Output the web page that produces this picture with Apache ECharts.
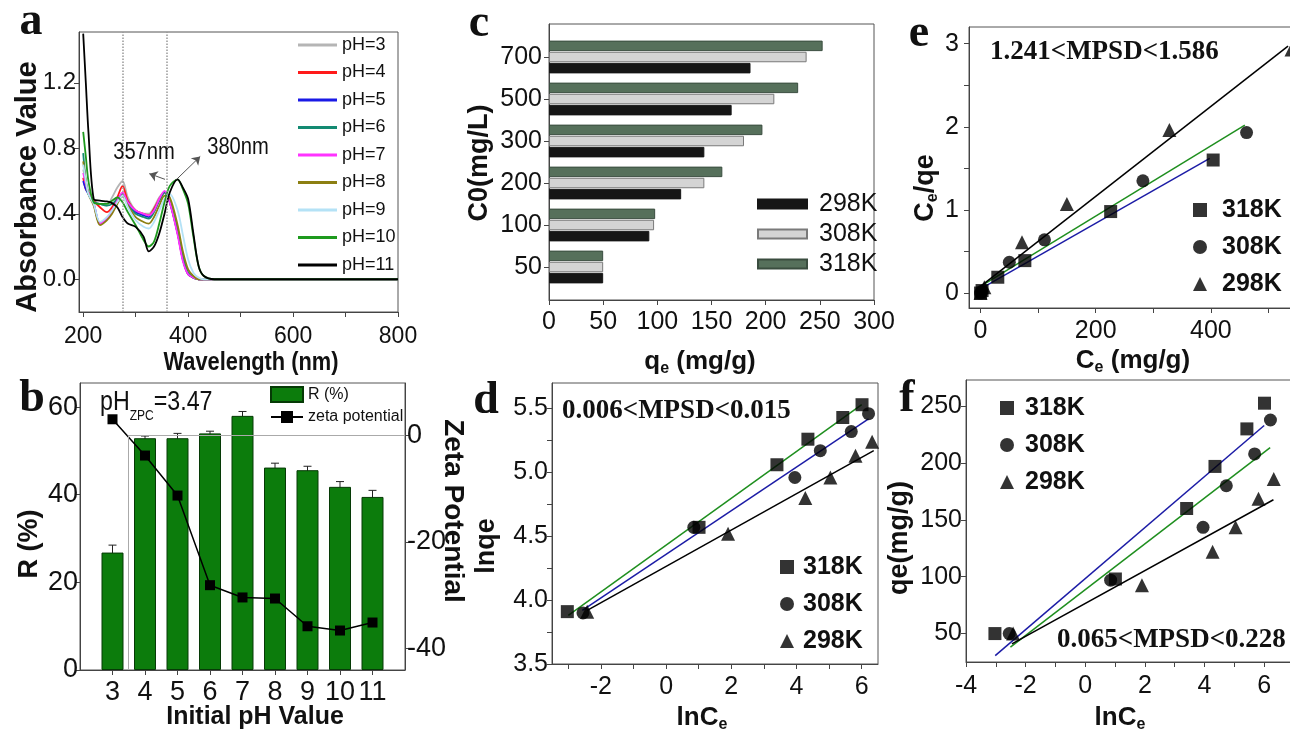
<!DOCTYPE html>
<html>
<head>
<meta charset="utf-8">
<script src="https://cdn.jsdelivr.net/npm/echarts@6/dist/echarts.min.js"></script>
<style>
  html, body { margin: 0; padding: 0; background: #fff; }
  #chart { width: 1290px; height: 731px; }
</style>
</head>
<body>
<div id="chart"></div>
<script>
  // a: UV-vis spectra at different pH
  const wavelength = [200, 205, 210, 220, 232, 245, 255, 265, 275, 285, 300, 315, 325, 335, 345, 355, 365, 380, 390, 400, 410, 420, 430, 450, 500, 600, 700, 800];
  const absPH3 = [0.67, 0.60, 0.54, 0.48, 0.46, 0.45, 0.50, 0.56, 0.60, 0.50, 0.42, 0.40, 0.40, 0.44, 0.50, 0.53, 0.48, 0.30, 0.15, 0.04, 0.01, 0, 0, 0, 0, 0, 0, 0];
  const absPH4 = [0.62, 0.55, 0.53, 0.48, 0.44, 0.41, 0.44, 0.50, 0.57, 0.48, 0.42, 0.40, 0.39, 0.43, 0.49, 0.53, 0.47, 0.28, 0.12, 0.03, 0.01, 0, 0, 0, 0, 0, 0, 0];
  const absPH5 = [0.60, 0.55, 0.52, 0.46, 0.34, 0.37, 0.42, 0.47, 0.52, 0.47, 0.41, 0.39, 0.38, 0.42, 0.48, 0.53, 0.47, 0.28, 0.12, 0.03, 0.01, 0, 0, 0, 0, 0, 0, 0];
  const absPH6 = [0.77, 0.60, 0.52, 0.47, 0.46, 0.45, 0.46, 0.49, 0.52, 0.46, 0.40, 0.38, 0.37, 0.41, 0.48, 0.53, 0.48, 0.30, 0.14, 0.04, 0.01, 0, 0, 0, 0, 0, 0, 0];
  const absPH7 = [0.65, 0.58, 0.53, 0.46, 0.34, 0.37, 0.42, 0.48, 0.53, 0.47, 0.42, 0.40, 0.39, 0.42, 0.49, 0.54, 0.47, 0.27, 0.11, 0.03, 0.01, 0, 0, 0, 0, 0, 0, 0];
  const absPH8 = [0.72, 0.60, 0.52, 0.45, 0.33, 0.36, 0.40, 0.46, 0.51, 0.45, 0.38, 0.35, 0.34, 0.38, 0.45, 0.51, 0.50, 0.33, 0.17, 0.06, 0.02, 0, 0, 0, 0, 0, 0, 0];
  const absPH9 = [0.70, 0.60, 0.52, 0.46, 0.35, 0.38, 0.42, 0.47, 0.51, 0.44, 0.36, 0.32, 0.31, 0.35, 0.42, 0.49, 0.52, 0.42, 0.27, 0.12, 0.04, 0.01, 0, 0, 0, 0, 0, 0];
  const absPH10 = [0.90, 0.75, 0.60, 0.47, 0.46, 0.46, 0.48, 0.50, 0.47, 0.41, 0.33, 0.24, 0.20, 0.23, 0.34, 0.47, 0.57, 0.61, 0.55, 0.46, 0.26, 0.08, 0.02, 0, 0, 0, 0, 0];
  const absPH11 = [1.50, 1.20, 0.90, 0.49, 0.48, 0.475, 0.465, 0.44, 0.38, 0.34, 0.32, 0.26, 0.17, 0.20, 0.28, 0.40, 0.53, 0.61, 0.56, 0.49, 0.28, 0.08, 0.02, 0, 0, 0, 0, 0];
  const markerWavelengths = [275, 360];
  const arrow357 = [[356, 0.61], [326, 0.645]];
  const arrow380 = [[378, 0.61], [423, 0.75]];

  // b: removal and zeta potential vs pH
  const phValues = [3, 4, 5, 6, 7, 8, 9, 10, 11];
  const removalR = [26.8, 52.9, 52.9, 54.0, 58.0, 46.2, 45.6, 41.8, 39.5];
  const removalErr = [1.7, 0.5, 1.1, 0.5, 1.0, 1.0, 0.9, 1.2, 1.5];
  const zetaPotential = [3.0, -3.8, -11.3, -28.1, -30.4, -30.6, -35.8, -36.6, -35.1];
  const pHzpc = 3.47;

  // c: qe at each initial concentration
  const c0Levels = ['50', '100', '200', '300', '500', '700'];
  const qe298 = [50, 92.6, 122, 143.4, 168.6, 186];
  const qe308 = [50, 97, 143.4, 180, 208, 237.8];
  const qe318 = [50, 98, 160, 197, 230, 252.6];

  // d: Freundlich, lnqe vs lnCe
  const lnCe318 = [-3.03, 1.01, 3.40, 4.35, 5.42, 6.01];
  const lnqe318 = [3.91, 4.57, 5.06, 5.26, 5.43, 5.53];
  const lnCe308 = [-2.55, 0.85, 3.95, 4.73, 5.68, 6.21];
  const lnqe308 = [3.90, 4.57, 4.96, 5.17, 5.32, 5.46];
  const lnCe298 = [-2.42, 1.90, 4.27, 5.04, 5.81, 6.32];
  const lnqe298 = [3.91, 4.52, 4.80, 4.96, 5.13, 5.24];
  const freundFit318 = [[-3.0, 3.88], [6.0, 5.53]];
  const freundFit308 = [[-2.57, 3.92], [6.21, 5.42]];
  const freundFit298 = [[-2.42, 3.92], [6.37, 5.17]];

  // e: Langmuir, Ce/qe vs Ce
  const ce318 = [0.05, 2.7, 30, 77, 226, 404];
  const ceqe318 = [0.0, 0.03, 0.19, 0.39, 0.98, 1.6];
  const ce308 = [0.08, 2.3, 50, 111, 282, 462];
  const ceqe308 = [0.0, 0.02, 0.37, 0.64, 1.35, 1.93];
  const ce298 = [0.09, 6.7, 72, 150, 328, 540];
  const ceqe298 = [0.0, 0.07, 0.61, 1.07, 1.96, 2.93];
  const langFit318 = [[0, 0.05], [398, 1.62]];
  const langFit308 = [[0, 0.08], [459, 2.02]];
  const langFit298 = [[0, 0.08], [534, 2.97]];

  // f: Temkin, qe vs lnCe (same lnCe as d, same qe as c)
  const tempFit318 = [[-3.02, 30.6], [6.0, 233]];
  const tempFit308 = [[-2.51, 38], [6.2, 213.5]];
  const tempFit298 = [[-2.46, 41], [6.31, 167.7]];

  const sans = "'Liberation Sans', Arial, sans-serif";
  const serif = "'Liberation Serif', 'Times New Roman', serif";
  const axisColor = '#444';

  function zip(xs, ys) {
    return xs.map((x, i) => [x, ys[i]]);
  }

  function grid(left, top, width, height) {
    return {
      left: left, top: top, width: width, height: height,
      show: true, borderColor: '#555', borderWidth: 1, backgroundColor: 'transparent',
      containLabel: false, outerBoundsMode: 'none'
    };
  }

  function numAxis(gridIndex, min, max, labels, ticks, opts) {
    opts = opts || {};
    const label = {
      show: labels.length > 0, customValues: labels, margin: opts.margin || 8,
      color: '#111', fontFamily: sans, fontSize: opts.fontSize || 25
    };
    if (opts.formatter) label.formatter = opts.formatter;
    return {
      type: 'value', gridIndex: gridIndex, min: min, max: max,
      position: opts.position, splitLine: { show: false },
      axisLine: { show: true, onZero: false, lineStyle: { color: axisColor, width: 1 } },
      axisTick: { show: ticks.length > 0, customValues: ticks, length: 5, lineStyle: { color: axisColor } },
      axisLabel: label
    };
  }

  function fmt1(v) {
    return v.toFixed(1);
  }

  // free text: titles, panel letters, notes
  function text(x, y, str, font, opts) {
    opts = opts || {};
    return {
      type: 'text', x: x, y: y, rotation: opts.rotation || 0, scaleX: opts.sx || 1, z: 100,
      style: {
        text: str, font: font, fill: '#111', rich: opts.rich,
        align: opts.align || 'center', verticalAlign: 'middle',
        textAlign: opts.align || 'center', textVerticalAlign: 'middle'
      }
    };
  }

  const specColors = ['#b5b5b5', '#ff1a1a', '#1a1ae6', '#138a72', '#ff33ff', '#8c7f12', '#b4e2f6', '#1e9a1e', '#000000'];
  const specData = [absPH3, absPH4, absPH5, absPH6, absPH7, absPH8, absPH9, absPH10, absPH11];
  const specNames = ['pH=3', 'pH=4', 'pH=5', 'pH=6', 'pH=7', 'pH=8', 'pH=9', 'pH=10', 'pH=11'];

  const series = specData.map((arr, i) => ({
    name: specNames[i], type: 'line', xAxisIndex: 0, yAxisIndex: 0,
    data: zip(wavelength, arr), symbol: 'none', smooth: 0.3,
    lineStyle: { color: specColors[i], width: 1.8 }, itemStyle: { color: specColors[i] }
  }));

  series[0].markLine = {
    silent: true, symbol: 'none', label: { show: false },
    lineStyle: { color: '#999', type: 'dotted', width: 1.5 },
    data: markerWavelengths.map(w => ({ xAxis: w }))
  };
  series[8].markLine = {
    silent: true, symbol: ['none', 'arrow'], symbolSize: 8, label: { show: false },
    lineStyle: { color: '#555', type: 'solid', width: 1 },
    data: [
      [{ coord: arrow357[0] }, { coord: arrow357[1] }],
      [{ coord: arrow380[0] }, { coord: arrow380[1] }]
    ]
  };

  // b
  series.push({
    name: 'R (%)', type: 'bar', xAxisIndex: 1, yAxisIndex: 1, barWidth: 22,
    data: zip(phValues, removalR),
    itemStyle: { color: '#0c7c0c', borderColor: '#063a06', borderWidth: 1 }
  });
  series.push({
    type: 'custom', xAxisIndex: 1, yAxisIndex: 1, silent: true,
    data: phValues.map((p, i) => [p, removalR[i] - removalErr[i], removalR[i] + removalErr[i]]),
    encode: { x: 0, y: [1, 2] },
    renderItem: function (params, api) {
      const lo = api.coord([api.value(0), api.value(1)]);
      const hi = api.coord([api.value(0), api.value(2)]);
      const w = 4;
      const st = { stroke: '#222', lineWidth: 1 };
      return {
        type: 'group', children: [
          { type: 'line', shape: { x1: lo[0], y1: lo[1], x2: hi[0], y2: hi[1] }, style: st },
          { type: 'line', shape: { x1: lo[0] - w, y1: lo[1], x2: lo[0] + w, y2: lo[1] }, style: st },
          { type: 'line', shape: { x1: hi[0] - w, y1: hi[1], x2: hi[0] + w, y2: hi[1] }, style: st }
        ]
      };
    }
  });
  series.push({
    name: 'zeta potential', type: 'line', xAxisIndex: 1, yAxisIndex: 2,
    data: zip(phValues, zetaPotential), symbol: 'rect', symbolSize: 10,
    lineStyle: { color: '#000', width: 1.5 }, itemStyle: { color: '#000' },
    markLine: {
      silent: true, symbol: 'none', label: { show: false },
      lineStyle: { color: '#aaa', type: 'solid', width: 1 },
      data: [
        [{ coord: [pHzpc, 0] }, { coord: [12, 0] }],
        [{ coord: [pHzpc, 0] }, { coord: [pHzpc, -44] }]
      ]
    }
  });

  // c
  [['c318K', qe318, '#56705b', '#3a4d3f'], ['c308K', qe308, '#d4d4d4', '#7a7a7a'], ['c298K', qe298, '#161616', '#161616']]
    .forEach(s => {
      series.push({
        name: s[0], type: 'bar', xAxisIndex: 3, yAxisIndex: 4, barWidth: 10.5, barGap: '6%',
        data: s[1], itemStyle: { color: s[2], borderColor: s[3], borderWidth: 1 }
      });
    });

  // d, e, f scatter + fit lines
  function scatter(name, xi, yi, pts, symbol) {
    return {
      name: name, type: 'scatter', xAxisIndex: xi, yAxisIndex: yi, data: pts,
      symbol: symbol, symbolSize: symbol === 'triangle' ? 14 : 13, itemStyle: { color: '#000' }, z: 3
    };
  }
  function fit(xi, yi, pts, color) {
    return {
      type: 'line', xAxisIndex: xi, yAxisIndex: yi, data: pts, symbol: 'none', silent: true,
      lineStyle: { color: color, width: 1.5 }, z: 2
    };
  }
  const green = '#1f8f1f', blue = '#1c1ca6';
  series.push(
    scatter('d318K', 4, 5, zip(lnCe318, lnqe318), 'rect'),
    scatter('d308K', 4, 5, zip(lnCe308, lnqe308), 'circle'),
    scatter('d298K', 4, 5, zip(lnCe298, lnqe298), 'triangle'),
    fit(4, 5, freundFit318, green), fit(4, 5, freundFit308, blue), fit(4, 5, freundFit298, '#000'),
    scatter('e318K', 5, 6, zip(ce318, ceqe318), 'rect'),
    scatter('e308K', 5, 6, zip(ce308, ceqe308), 'circle'),
    scatter('e298K', 5, 6, zip(ce298, ceqe298), 'triangle'),
    fit(5, 6, langFit318, blue), fit(5, 6, langFit308, green), fit(5, 6, langFit298, '#000'),
    scatter('f318K', 6, 7, zip(lnCe318, qe318), 'rect'),
    scatter('f308K', 6, 7, zip(lnCe308, qe308), 'circle'),
    scatter('f298K', 6, 7, zip(lnCe298, qe298), 'triangle'),
    fit(6, 7, tempFit318, blue), fit(6, 7, tempFit308, green), fit(6, 7, tempFit298, '#000')
  );

  const symLegend = (names, left, top, pad) => ({
    data: names, left: left, top: top, orient: 'vertical', itemWidth: 14, itemHeight: 14, itemGap: 11,
    formatter: n => n.slice(1), selectedMode: false,
    textStyle: { fontFamily: sans, fontWeight: 'bold', fontSize: 25, lineHeight: 26, color: '#111', padding: [0, 0, 0, pad] }
  });

  const titleRich = (size) => ({
    m: { fontFamily: sans, fontWeight: 'bold', fontSize: size },
    s: { fontFamily: sans, fontWeight: 'bold', fontSize: 16, padding: [14, 0, 0, 0] }
  });

  const option = {
    animation: false,
    backgroundColor: '#fff',
    grid: [
      grid(79, 32, 319, 280),
      grid(80, 383, 325, 287),
      grid(549, 24, 325, 276),
      { left: 549, top: 36, width: 325, height: 252, show: false, containLabel: false, outerBoundsMode: 'none' },
      grid(552, 383, 326, 281),
      grid(969, 27, 334, 281),
      grid(966, 380, 328, 282)
    ],
    xAxis: [
      numAxis(0, 192, 800, [200, 400, 600, 800], [200, 300, 400, 500, 600, 700, 800], { margin: 13, fontSize: 23 }),
      numAxis(1, 2, 12, phValues, phValues, { margin: 9, fontSize: 27 }),
      numAxis(2, 0, 300, [0, 50, 100, 150, 200, 250, 300], [0, 50, 100, 150, 200, 250, 300], { margin: 10 }),
      { type: 'value', gridIndex: 3, min: 0, max: 300, show: false },
      numAxis(4, -3.5, 6.5, [-2, 0, 2, 4, 6], [-3, -2, -1, 0, 1, 2, 3, 4, 5, 6], { margin: 11 }),
      numAxis(5, -20, 560, [0, 200, 400], [0, 100, 200, 300, 400, 500], { margin: 11 }),
      numAxis(6, -4, 7, [-4, -2, 0, 2, 4, 6], [-4, -3, -2, -1, 0, 1, 2, 3, 4, 5, 6], { margin: 12 })
    ],
    yAxis: [
      numAxis(0, -0.2, 1.51, [0, 0.4, 0.8, 1.2], [0, 0.4, 0.8, 1.2], { margin: 3, fontSize: 24, formatter: fmt1 }),
      numAxis(1, 0, 65.5, [0, 20, 40, 60], [0, 20, 40, 60], { margin: 2, fontSize: 27 }),
      numAxis(1, -44, 9.8, [-40, -20, 0], [-40, -20, 0], { margin: 2, fontSize: 27, position: 'right' }),
      { type: 'value', gridIndex: 2, min: 0, max: 1, axisLabel: { show: false }, axisTick: { show: false }, splitLine: { show: false },
        axisLine: { show: true, lineStyle: { color: axisColor } } },
      { type: 'category', gridIndex: 3, data: c0Levels, axisLine: { show: false },
        axisTick: { show: true, alignWithLabel: true, length: 5, lineStyle: { color: axisColor } },
        axisLabel: { margin: 7, color: '#111', fontFamily: sans, fontSize: 25 } },
      numAxis(4, 3.5, 5.7, [3.5, 4, 4.5, 5, 5.5], [3.5, 3.75, 4, 4.25, 4.5, 4.75, 5, 5.25, 5.5], { margin: 4, formatter: fmt1 }),
      numAxis(5, -0.18, 3.2, [0, 1, 2, 3], [0, 0.5, 1, 1.5, 2, 2.5, 3], { margin: 10 }),
      numAxis(6, 25, 273, [50, 100, 150, 200, 250], [50, 100, 150, 200, 250], { margin: 4 })
    ],
    legend: [
      { data: specNames, left: 293, top: 30, orient: 'vertical', icon: 'rect', itemWidth: 39, itemHeight: 3, itemGap: 7.5,
        selectedMode: false,
        textStyle: { fontFamily: sans, fontSize: 18, lineHeight: 20, color: '#111' } },
      { data: [{ name: 'R (%)', icon: 'rect' }, 'zeta potential'], left: 265, top: 381, orient: 'vertical',
        itemWidth: 32, itemHeight: 15, itemGap: 5.5, selectedMode: false,
        textStyle: { fontFamily: sans, fontSize: 16, lineHeight: 17, color: '#111' } },
      { data: ['c298K', 'c308K', 'c318K'], left: 752, top: 186, orient: 'vertical', icon: 'rect',
        itemWidth: 49, itemHeight: 9, itemGap: 4, selectedMode: false, formatter: n => n.slice(1),
        textStyle: { fontFamily: sans, fontSize: 25, lineHeight: 26, color: '#111', padding: [0, 0, 0, 7] } },
      symLegend(['d318K', 'd308K', 'd298K'], 775, 549, 4),
      symLegend(['e318K', 'e308K', 'e298K'], 1188, 192, 10),
      symLegend(['f318K', 'f308K', 'f298K'], 995, 390, 6)
    ],
    graphic: [
      text(31, 22, 'a', 'bold 46px ' + serif),
      text(32, 399, 'b', 'bold 46px ' + serif),
      text(479, 24, 'c', 'bold 46px ' + serif),
      text(486, 401, 'd', 'bold 46px ' + serif),
      text(919, 34, 'e', 'bold 46px ' + serif),
      text(907, 399, 'f', 'bold 46px ' + serif),

      text(28, 187, 'Absorbance Value', 'bold 29px ' + sans, { rotation: Math.PI / 2 }),
      text(251, 363, 'Wavelength (nm)', 'bold 26px ' + sans, { sx: 0.84 }),
      text(144, 152, '357nm', '24px ' + sans, { sx: 0.84 }),
      text(238, 147, '380nm', '24px ' + sans, { sx: 0.84 }),

      text(30, 544, 'R (%)', 'bold 27px ' + sans, { rotation: Math.PI / 2 }),
      text(453, 511, 'Zeta Potential', 'bold 28px ' + sans, { rotation: -Math.PI / 2 }),
      text(255, 717, 'Initial pH Value', 'bold 26px ' + sans, { sx: 0.96 }),
      text(100, 403, '{m|pH}{s|ZPC}{m|=3.47}', '25px ' + sans, {
        align: 'left', sx: 0.86,
        rich: { m: { fontFamily: sans, fontSize: 27 }, s: { fontFamily: sans, fontSize: 14, padding: [26, 0, 0, 0] } }
      }),

      text(480, 163, 'C0(mg/L)', 'bold 27px ' + sans, { rotation: Math.PI / 2 }),
      text(700, 362, '{m|q}{s|e}{m| (mg/g)}', 'bold 26px ' + sans, { rich: titleRich(26) }),

      text(487, 546, 'lnqe', 'bold 27px ' + sans, { rotation: Math.PI / 2 }),
      text(702, 718, '{m|lnC}{s|e}', 'bold 26px ' + sans, { rich: titleRich(26) }),
      text(562, 411, '0.006<MPSD<0.015', 'bold 27px ' + serif, { align: 'left' }),

      text(926, 188, '{m|C}{s|e}{m|/qe}', 'bold 27px ' + sans, { rotation: Math.PI / 2, rich: titleRich(27) }),
      text(1133, 361, '{m|C}{s|e}{m| (mg/g)}', 'bold 26px ' + sans, { rich: titleRich(26) }),
      text(990, 52, '1.241<MPSD<1.586', 'bold 27px ' + serif, { align: 'left' }),

      text(900, 538, 'qe(mg/g)', 'bold 27px ' + sans, { rotation: Math.PI / 2 }),
      text(1120, 718, '{m|lnC}{s|e}', 'bold 26px ' + sans, { rich: titleRich(26) }),
      text(1057, 640, '0.065<MPSD<0.228', 'bold 27px ' + serif, { align: 'left' })
    ],
    series: series
  };

  const myChart = echarts.init(document.getElementById('chart'));
  myChart.setOption(option);
</script>
</body>
</html>
